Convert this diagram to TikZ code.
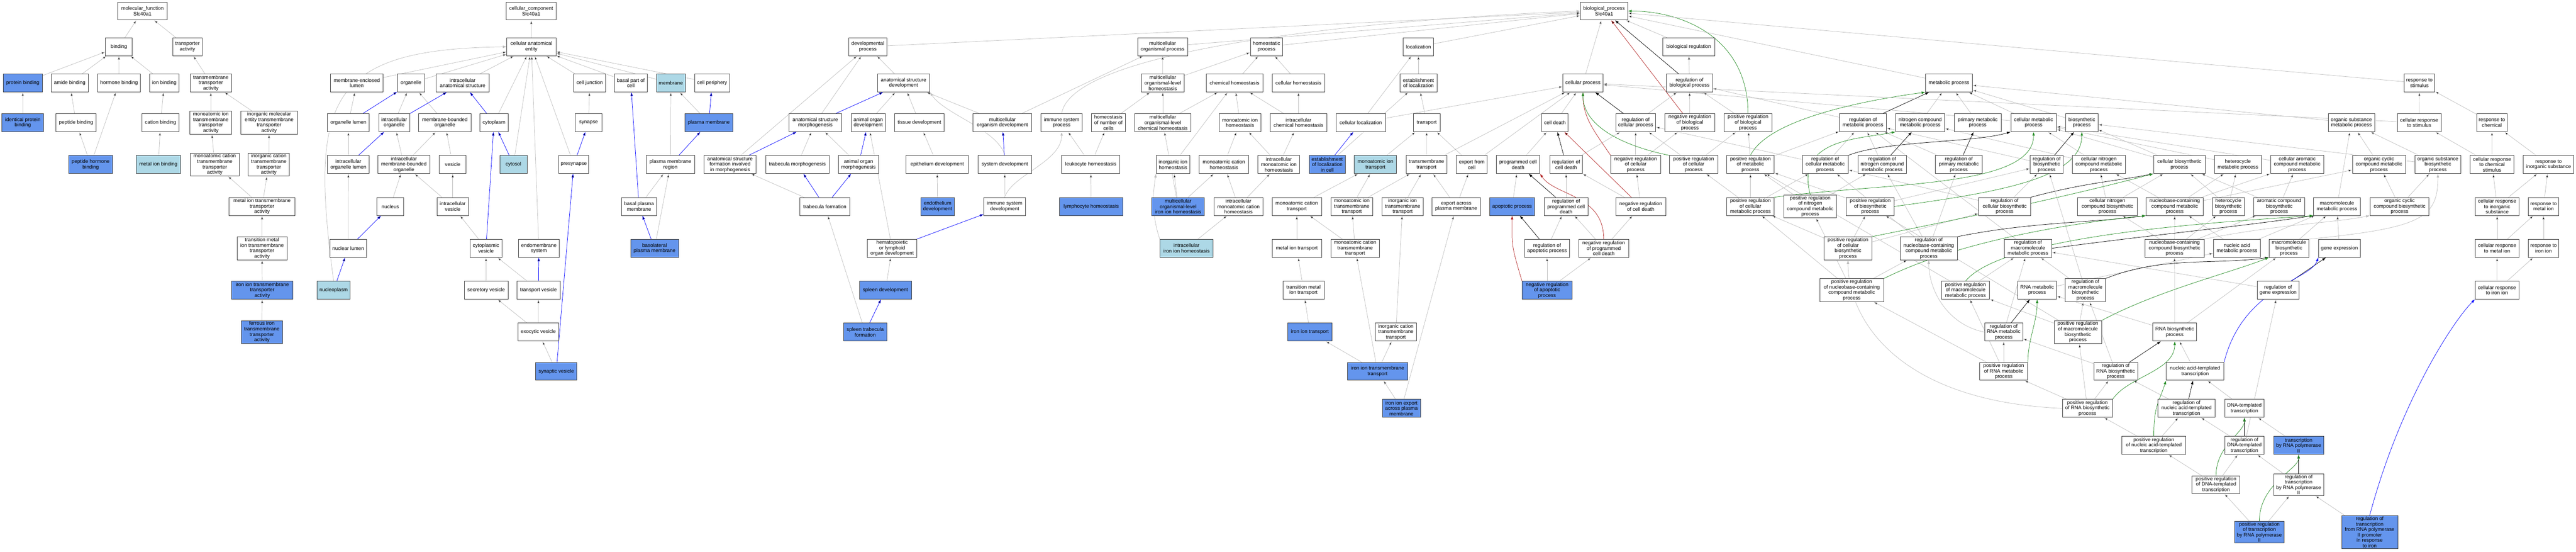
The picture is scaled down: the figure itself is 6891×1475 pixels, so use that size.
\documentclass[tikz,border=0pt]{standalone}
\usepackage{fontspec}
\setmainfont{Liberation Sans}
\usepackage{tikz}
\usetikzlibrary{arrows.meta,backgrounds}
\definecolor{hitblue}{RGB}{100,149,237}
\definecolor{litblue}{RGB}{173,216,230}
\definecolor{edgegray}{RGB}{190,190,190}
\definecolor{negred}{RGB}{178,34,34}
\definecolor{posgreen}{RGB}{34,139,34}
\newcommand{\gofont}{\fontsize{13.5}{14.6}\selectfont}
\tikzset{
    %Define standard arrow tip
    >={Latex[length=10pt,width=7pt]},
    % Define edge styles
    isa/.style={->, draw=edgegray, line width=1pt},
    partof/.style={->, draw=blue, line width=1pt},
    regs/.style={->, draw=black, line width=1pt},
    negreg/.style={->, draw=negred, line width=1pt},
    posreg/.style={->, draw=posgreen, line width=1pt}
}
\begin{document}
\begin{tikzpicture}[x=1pt, y=-1pt]
	% styles
	\tikzstyle{term} = [rectangle, draw=black!75, line width=1.2pt, fill=white, align=center, font=\gofont, inner xsep=1.5pt, inner ysep=2.5pt, minimum height=48pt]
	\tikzstyle{hit} = [term, fill=hitblue]
	\tikzstyle{lite} = [term, fill=litblue]
	\useasboundingbox (0,0) rectangle (6891,1475);

	% molecular function
	\node[term, minimum width=132pt] (mf-root) at (381,29.5) {molecular\_function\\Slc40a1};
	\node[term, minimum width=72pt] (mf-bind) at (318,125) {binding};
	\node[term, minimum width=79pt] (mf-trans) at (501.5,125) {transporter\\activity};
	\node[hit, minimum width=104pt] (mf-prot) at (61,222) {protein binding};
	\node[term, minimum width=99pt] (mf-amide) at (186.5,222) {amide binding};
	\node[term, minimum width=115pt] (mf-horm) at (318.5,222) {hormone binding};
	\node[term, minimum width=79pt] (mf-ion) at (439.5,222) {ion binding};
	\node[term, minimum width=110pt] (mf-tmt) at (564,222) {transmembrane\\transporter\\activity};
	\node[hit, minimum width=112pt] (mf-ident) at (61,328) {identical protein\\binding};
	\node[term, minimum width=107pt] (mf-pept) at (203.5,328) {peptide binding};
	\node[term, minimum width=99pt] (mf-cat) at (429.5,328) {cation binding};
	\node[term, minimum width=112pt] (mf-moi) at (564,328) {monoatomic ion\\transmembrane\\transporter\\activity};
	\node[term, minimum width=152pt] (mf-ime) at (720,328) {inorganic molecular\\entity transmembrane\\transporter\\activity};
	\node[hit, minimum width=117pt] (mf-phorm) at (242.5,440) {peptide hormone\\binding};
	\node[lite, minimum width=119pt] (mf-metal) at (423.5,440) {metal ion binding};
	\node[term, minimum width=131pt] (mf-moc) at (574.5,440) {monoatomic cation\\transmembrane\\transporter\\activity};
	\node[term, minimum width=110pt] (mf-ic) at (719,440) {inorganic cation\\transmembrane\\transporter\\activity};
	\node[term, minimum width=176pt] (mf-mit) at (701,552) {metal ion transmembrane\\transporter\\activity};
	\node[term, minimum width=134pt] (mf-tmit) at (701,664) {transition metal\\ion transmembrane\\transporter\\activity};
	\node[hit, minimum width=163pt] (mf-iron) at (701.5,776) {iron ion transmembrane\\transporter\\activity};
	\node[hit, minimum width=111pt] (mf-ferr) at (700.5,888) {ferrous iron\\transmembrane\\transporter\\activity};

	% cellular component
	\node[term, minimum width=134pt] (cc-root) at (1421,29.5) {cellular\_component\\Slc40a1};
	\node[term, minimum width=131pt] (cc-cae) at (1421.5,125) {cellular anatomical\\entity};
	\node[term, minimum width=141pt] (cc-mel) at (954.5,222) {membrane-enclosed\\lumen};
	\node[term, minimum width=73pt] (cc-org) at (1099.5,222) {organelle};
	\node[term, minimum width=141pt] (cc-ias) at (1237.5,222) {intracellular\\anatomical structure};
	\node[term, minimum width=85pt] (cc-junc) at (1577.5,222) {cell junction};
	\node[term, minimum width=89pt] (cc-basal) at (1687.5,222) {basal part of\\cell};
	\node[lite, minimum width=77pt] (cc-memb) at (1794.5,222) {membrane};
	\node[term, minimum width=94pt] (cc-peri) at (1905,222) {cell periphery};
	\node[term, minimum width=112pt] (cc-olum) at (932,328) {organelle lumen};
	\node[term, minimum width=83pt] (cc-iorg) at (1054.5,328) {intracellular\\organelle};
	\node[term, minimum width=140pt] (cc-mbo) at (1190,328) {membrane-bounded\\organelle};
	\node[term, minimum width=75pt] (cc-cyto) at (1321.5,328) {cytoplasm};
	\node[term, minimum width=71pt] (cc-syn) at (1574.5,328) {synapse};
	\node[hit, minimum width=128pt] (cc-pm) at (1896,328) {plasma membrane};
	\node[term, minimum width=112pt] (cc-iolum) at (932,440) {intracellular\\organelle lumen};
	\node[term, minimum width=139pt] (cc-imbo) at (1080.5,440) {intracellular\\membrane-bounded\\organelle};
	\node[term, minimum width=72pt] (cc-ves) at (1211,440) {vesicle};
	\node[lite, minimum width=73pt] (cc-cytosol) at (1373.5,440) {cytosol};
	\node[term, minimum width=80pt] (cc-presyn) at (1535,440) {presynapse};
	\node[term, minimum width=129pt] (cc-pmr) at (1793.5,440) {plasma membrane\\region};
	\node[term, minimum width=72pt] (cc-nuc) at (1044,552) {nucleus};
	\node[term, minimum width=84pt] (cc-ives) at (1211,552) {intracellular\\vesicle};
	\node[term, minimum width=93pt] (cc-bpm) at (1709.5,552) {basal plasma\\membrane};
	\node[term, minimum width=99pt] (cc-nlum) at (931.5,664) {nuclear lumen};
	\node[term, minimum width=86pt] (cc-cves) at (1300,664) {cytoplasmic\\vesicle};
	\node[term, minimum width=109pt] (cc-endo) at (1441.5,664) {endomembrane\\system};
	\node[hit, minimum width=128pt] (cc-blpm) at (1751,664) {basolateral\\plasma membrane};
	\node[lite, minimum width=89pt] (cc-nplasm) at (892.5,776) {nucleoplasm};
	\node[term, minimum width=117pt] (cc-sves) at (1300.5,776) {secretory vesicle};
	\node[term, minimum width=115pt] (cc-tves) at (1440.5,776) {transport vesicle};
	\node[term, minimum width=110pt] (cc-exo) at (1440,888) {exocytic vesicle};
	\node[hit, minimum width=110pt] (cc-synves) at (1488,993) {synaptic vesicle};

	% development
	\node[term, minimum width=103pt] (bp-dev) at (2321.5,125) {developmental\\process};
	\node[term, minimum width=140pt] (bp-asd) at (2417,222) {anatomical structure\\development};
	\node[term, minimum width=140pt] (bp-asm) at (2181,328) {anatomical structure\\morphogenesis};
	\node[term, minimum width=91pt] (bp-aod) at (2322.5,328) {animal organ\\development};
	\node[term, minimum width=133pt] (bp-tissue) at (2459.5,328) {tissue development};
	\node[term, minimum width=157pt] (bp-mod) at (2681.5,328) {multicellular\\organism development};
	\node[term, minimum width=140pt] (bp-asfim) at (1953,440) {anatomical structure\\formation involved\\in morphogenesis};
	\node[term, minimum width=170pt] (bp-tmorph) at (2133,440) {trabecula morphogenesis};
	\node[term, minimum width=107pt] (bp-aom) at (2296.5,440) {animal organ\\morphogenesis};
	\node[term, minimum width=166pt] (bp-epi) at (2507,440) {epithelium development};
	\node[term, minimum width=144pt] (bp-sysdev) at (2688,440) {system development};
	\node[term, minimum width=133pt] (bp-tform) at (2206.5,552) {trabecula formation};
	\node[hit, minimum width=90pt] (bp-endo) at (2508,552) {endothelium\\development};
	\node[term, minimum width=111pt] (bp-isd) at (2687.5,552) {immune system\\development};
	\node[term, minimum width=133pt] (bp-holod) at (2386.5,664) {hematopoietic\\or lymphoid\\organ development};
	\node[hit, minimum width=139pt] (bp-spleen) at (2368.5,776) {spleen development};
	\node[hit, minimum width=115pt] (bp-stf) at (2314.5,888) {spleen trabecula\\formation};

	% homeostasis
	\node[term, minimum width=110pt] (bp-isp) at (2840,328) {immune system\\process};
	\node[term, minimum width=90pt] (bp-hnc) at (2965,328) {homeostasis\\of number of\\cells};
	\node[term, minimum width=134pt] (bp-mop) at (3110,125) {multicellular\\organismal process};
	\node[term, minimum width=115pt] (bp-molh) at (3110.5,222) {multicellular\\organismal-level\\homeostasis};
	\node[term, minimum width=151pt] (bp-mochem) at (3110.5,328) {multicellular\\organismal-level\\chemical homeostasis};
	\node[term, minimum width=86pt] (bp-homeo) at (3388,125) {homeostatic\\process};
	\node[term, minimum width=151pt] (bp-chem) at (3302.5,222) {chemical homeostasis};
	\node[term, minimum width=141pt] (bp-cellh) at (3473.5,222) {cellular homeostasis};
	\node[term, minimum width=112pt] (bp-moih) at (3317,328) {monoatomic ion\\homeostasis};
	\node[term, minimum width=151pt] (bp-ich) at (3473.5,328) {intracellular\\chemical homeostasis};
	\node[term, minimum width=156pt] (bp-leuk) at (2918,440) {leukocyte homeostasis};
	\node[term, minimum width=90pt] (bp-iih) at (3138,440) {inorganic ion\\homeostasis};
	\node[term, minimum width=132pt] (bp-moch) at (3274,440) {monoatomic cation\\homeostasis};
	\node[term, minimum width=112pt] (bp-imih) at (3421,440) {intracellular\\monoatomic ion\\homeostasis};
	\node[hit, minimum width=170pt] (bp-lymph) at (2919,552) {lymphocyte homeostasis};
	\node[hit, minimum width=141pt] (bp-moiron) at (3151.5,552) {multicellular\\organismal-level\\iron ion homeostasis};
	\node[term, minimum width=130pt] (bp-imch) at (3313,552) {intracellular\\monoatomic cation\\homeostasis};
	\node[lite, minimum width=142pt] (bp-iiih) at (3174,664) {intracellular\\iron ion homeostasis};

	% localization
	\node[term, minimum width=81pt] (bp-loc) at (3794.5,125) {localization};
	\node[term, minimum width=99pt] (bp-estl) at (3794.5,222) {establishment\\of localization};
	\node[term, minimum width=132pt] (bp-cloc) at (3640,328) {cellular localization};
	\node[term, minimum width=71pt] (bp-transp) at (3816.5,328) {transport};
	\node[hit, minimum width=97pt] (bp-elic) at (3550.5,440) {establishment\\of localization\\in cell};
	\node[lite, minimum width=113pt] (bp-mit) at (3679.5,440) {monoatomic ion\\transport};
	\node[term, minimum width=110pt] (bp-tmt) at (3816,440) {transmembrane\\transport};
	\node[term, minimum width=82pt] (bp-efc) at (3937,440) {export from\\cell};
	\node[term, minimum width=132pt] (bp-mct) at (3469,552) {monoatomic cation\\transport};
	\node[term, minimum width=112pt] (bp-moitt) at (3616,552) {monoatomic ion\\transmembrane\\transport};
	\node[term, minimum width=110pt] (bp-iitt) at (3752,552) {inorganic ion\\transmembrane\\transport};
	\node[term, minimum width=129pt] (bp-eapm) at (3895.5,552) {export across\\plasma membrane};
	\node[term, minimum width=132pt] (bp-mitr) at (3469,664) {metal ion transport};
	\node[term, minimum width=130pt] (bp-mctt) at (3625,664) {monoatomic cation\\transmembrane\\transport};
	\node[term, minimum width=110pt] (bp-tmitr) at (3487,776) {transition metal\\ion transport};
	\node[hit, minimum width=118pt] (bp-iit) at (3504,888) {iron ion transport};
	\node[term, minimum width=110pt] (bp-ictt) at (3734,888) {inorganic cation\\transmembrane\\transport};
	\node[hit, minimum width=162pt] (bp-iitm) at (3685,993) {iron ion transmembrane\\transport};
	\node[hit, minimum width=102pt] (bp-iiexp) at (3749,1092) {iron ion export\\across plasma\\membrane};

	% cell death and regulation
	\node[term, minimum width=126pt] (bp-root) at (4291,29.5) {biological\_process\\Slc40a1};
	\node[term, minimum width=107pt] (bp-cp) at (4234.5,222) {cellular process};
	\node[term, minimum width=71pt] (bp-death) at (4159.5,328) {cell death};
	\node[term, minimum width=107pt] (bp-rcp) at (4375.5,328) {regulation of\\cellular process};
	\node[term, minimum width=116pt] (bp-pcd) at (4061,440) {programmed cell\\death};
	\node[term, minimum width=87pt] (bp-rcd) at (4189.5,440) {regulation of\\cell death};
	\node[term, minimum width=133pt] (bp-nrcp) at (4375.5,440) {negative regulation\\of cellular\\process};
	\node[hit, minimum width=120pt] (bp-apo) at (4045,552) {apoptotic process};
	\node[term, minimum width=117pt] (bp-rpcd) at (4189.5,552) {regulation of\\programmed cell\\death};
	\node[term, minimum width=134pt] (bp-nrcd) at (4389,552) {negative regulation\\of cell death};
	\node[term, minimum width=121pt] (bp-rap) at (4138.5,664) {regulation of\\apoptotic process};
	\node[term, minimum width=134pt] (bp-nrpcd) at (4290,664) {negative regulation\\of programmed\\cell death};
	\node[hit, minimum width=133pt] (bp-nrap) at (4138.5,776) {negative regulation\\of apoptotic\\process};
	\node[term, minimum width=139pt] (bp-breg) at (4517.5,125) {biological regulation};
	\node[term, minimum width=123pt] (bp-rbp) at (4519.5,222) {regulation of\\biological process};
	\node[term, minimum width=133pt] (bp-nrbp) at (4520.5,328) {negative regulation\\of biological\\process};
	\node[term, minimum width=128pt] (bp-prbp) at (4676,328) {positive regulation\\of biological\\process};
	\node[term, minimum width=129pt] (bp-prcp) at (4530.5,440) {positive regulation\\of cellular\\process};

	% metabolism
	\node[term, minimum width=125pt] (bp-met) at (5213.5,222) {metabolic process};
	\node[term, minimum width=125pt] (bp-rmp) at (4983.5,328) {regulation of\\metabolic process};
	\node[term, minimum width=131pt] (bp-ncmp) at (5136.5,328) {nitrogen compound\\metabolic process};
	\node[term, minimum width=125pt] (bp-pmp) at (5290.5,328) {primary metabolic\\process};
	\node[term, minimum width=122pt] (bp-cmp) at (5440,328) {cellular metabolic\\process};
	\node[term, minimum width=86pt] (bp-bio) at (5569,328) {biosynthetic\\process};
	\node[term, minimum width=124pt] (bp-osmp) at (6290,328) {organic substance\\metabolic process};
	\node[term, minimum width=127pt] (bp-prmp) at (4682.5,440) {positive regulation\\of metabolic\\process};
	\node[term, minimum width=123pt] (bp-rcmp) at (4882.5,440) {regulation of\\cellular metabolic\\process};
	\node[term, minimum width=130pt] (bp-rncmp) at (5035,440) {regulation of\\nitrogen compound\\metabolic process};
	\node[term, minimum width=126pt] (bp-rpmp) at (5240,440) {regulation of\\primary metabolic\\process};
	\node[term, minimum width=88pt] (bp-rbio) at (5475,440) {regulation of\\biosynthetic\\process};
	\node[term, minimum width=141pt] (bp-cncmp) at (5614.5,440) {cellular nitrogen\\compound metabolic\\process};
	\node[term, minimum width=138pt] (bp-cbio) at (5830,440) {cellular biosynthetic\\process};
	\node[term, minimum width=125pt] (bp-hmp) at (5986.5,440) {heterocycle\\metabolic process};
	\node[term, minimum width=142pt] (bp-cacmp) at (6145,440) {cellular aromatic\\compound metabolic\\process};
	\node[term, minimum width=142pt] (bp-occmp) at (6364,440) {organic cyclic\\compound metabolic\\process};
	\node[term, minimum width=123pt] (bp-osbio) at (6521.5,440) {organic substance\\biosynthetic\\process};
	\node[term, minimum width=127pt] (bp-prcmp) at (4682.5,552) {positive regulation\\of cellular\\metabolic process};
	\node[term, minimum width=141pt] (bp-prncmp) at (4842.5,552) {positive regulation\\of nitrogen\\compound metabolic\\process};
	\node[term, minimum width=128pt] (bp-prbio) at (5003,552) {positive regulation\\of biosynthetic\\process};
	\node[term, minimum width=139pt] (bp-rcbio) at (5362.5,552) {regulation of\\cellular biosynthetic\\process};
	\node[term, minimum width=159pt] (bp-cncbio) at (5637.5,552) {cellular nitrogen\\compound biosynthetic\\process};
	\node[term, minimum width=153pt] (bp-nccmp) at (5817.5,552) {nucleobase-containing\\compound metabolic\\process};
	\node[term, minimum width=86pt] (bp-hbio) at (5961,552) {heterocycle\\biosynthetic\\process};
	\node[term, minimum width=136pt] (bp-acbio) at (6097,552) {aromatic compound\\biosynthetic\\process};
	\node[term, minimum width=125pt] (bp-mmp) at (6251.5,552) {macromolecule\\metabolic process};
	\node[term, minimum width=158pt] (bp-occbio) at (6419,552) {organic cyclic\\compound biosynthetic\\process};
	\node[term, minimum width=127pt] (bp-prcbio) at (4943.5,664) {positive regulation\\of cellular\\biosynthetic\\process};
	\node[term, minimum width=153pt] (bp-rnccmp) at (5159.5,664) {regulation of\\nucleobase-containing\\compound metabolic\\process};
	\node[term, minimum width=126pt] (bp-rmmp) at (5425,664) {regulation of\\macromolecule\\metabolic process};
	\node[term, minimum width=158pt] (bp-nccbio) at (5817,664) {nucleobase-containing\\compound biosynthetic\\process};
	\node[term, minimum width=126pt] (bp-namp) at (5984,664) {nucleic acid\\metabolic process};
	\node[term, minimum width=106pt] (bp-mbio) at (6123,664) {macromolecule\\biosynthetic\\process};
	\node[term, minimum width=112pt] (bp-gexp) at (6258,664) {gene expression};
	\node[term, minimum width=171pt] (bp-prnccmp) at (4953.5,776) {positive regulation\\of nucleobase-containing\\compound metabolic\\process};
	\node[term, minimum width=128pt] (bp-prmmp) at (5258,776) {positive regulation\\of macromolecule\\metabolic process};
	\node[term, minimum width=103pt] (bp-rnamp) at (5449.5,776) {RNA metabolic\\process};
	\node[term, minimum width=107pt] (bp-rmbio) at (5578.5,776) {regulation of\\macromolecule\\biosynthetic\\process};
	\node[term, minimum width=112pt] (bp-rgexp) at (6094,776) {regulation of\\gene expression};
	\node[term, minimum width=102pt] (bp-rrnamp) at (5360,888) {regulation of\\RNA metabolic\\process};
	\node[term, minimum width=127pt] (bp-prmbio) at (5558.5,888) {positive regulation\\of macromolecule\\biosynthetic\\process};
	\node[term, minimum width=117pt] (bp-rnabio) at (5817.5,888) {RNA biosynthetic\\process};
	\node[term, minimum width=128pt] (bp-prrnamp) at (5360,993) {positive regulation\\of RNA metabolic\\process};
	\node[term, minimum width=117pt] (bp-rrnabio) at (5659.5,993) {regulation of\\RNA biosynthetic\\process};
	\node[term, minimum width=154pt] (bp-natt) at (5872,993) {nucleic acid-templated\\transcription};
	\node[term, minimum width=134pt] (bp-prrnabio) at (5584,1092) {positive regulation\\of RNA biosynthetic\\process};
	\node[term, minimum width=154pt] (bp-rnatt) at (5849,1092) {regulation of\\nucleic acid-templated\\transcription};
	\node[term, minimum width=106pt] (bp-dtt) at (6004,1092) {DNA-templated\\transcription};
	\node[term, minimum width=171pt] (bp-prnatt) at (5761.5,1191) {positive regulation\\of nucleic acid-templated\\transcription};
	\node[term, minimum width=106pt] (bp-rdtt) at (6004,1191) {regulation of\\DNA-templated\\transcription};
	\node[hit, minimum width=134pt] (bp-trp2) at (6149,1191) {transcription\\by RNA polymerase\\II};
	\node[term, minimum width=128pt] (bp-prdtt) at (5928,1296) {positive regulation\\of DNA-templated\\transcription};
	\node[term, minimum width=134pt] (bp-rtrp2) at (6149,1296) {regulation of\\transcription\\by RNA polymerase\\II};
	\node[hit, minimum width=132pt] (bp-prtrp2) at (6044,1423) {positive regulation\\of transcription\\by RNA polymerase\\II};
	\node[hit, minimum width=150pt] (bp-rtiron) at (6339,1423) {regulation of\\transcription\\from RNA polymerase\\II promoter\\in response\\to iron};

	% response to stimulus
	\node[term, minimum width=82pt] (bp-rs) at (6472,222) {response to\\stimulus};
	\node[term, minimum width=117pt] (bp-crs) at (6471.5,328) {cellular response\\to stimulus};
	\node[term, minimum width=82pt] (bp-rchem) at (6666,328) {response to\\chemical};
	\node[term, minimum width=117pt] (bp-crcs) at (6666.5,440) {cellular response\\to chemical\\stimulus};
	\node[term, minimum width=135pt] (bp-ris) at (6817.5,440) {response to\\inorganic substance};
	\node[term, minimum width=118pt] (bp-cris) at (6680,552) {cellular response\\to inorganic\\substance};
	\node[term, minimum width=82pt] (bp-rmi) at (6804,552) {response to\\metal ion};
	\node[term, minimum width=118pt] (bp-crmi) at (6680,664) {cellular response\\to metal ion};
	\node[term, minimum width=82pt] (bp-rii) at (6804,664) {response to\\iron ion};
	\node[term, minimum width=117pt] (bp-crii) at (6679.5,776) {cellular response\\to iron ion};

	\begin{scope}[on background layer]
	\fill[white] (0,0) rectangle (6891,1475);

	% molecular function edges
	\path[isa] (mf-bind) edge (mf-root)
	           (mf-trans) edge (mf-root)
	           (mf-prot) edge (mf-bind)
	           (mf-amide) edge (mf-bind)
	           (mf-horm) edge (mf-bind)
	           (mf-ion) edge (mf-bind)
	           (mf-tmt) edge (mf-trans)
	           (mf-ident) edge (mf-prot)
	           (mf-pept) edge (mf-amide)
	           (mf-cat) edge (mf-ion)
	           (mf-moi) edge (mf-tmt)
	           (mf-ime) edge (mf-tmt)
	           (mf-phorm) edge (mf-pept)
	           (mf-phorm) edge (mf-horm)
	           (mf-metal) edge (mf-cat)
	           (mf-moc) edge (mf-moi)
	           (mf-ic) edge (mf-ime)
	           (mf-mit) edge (mf-moc)
	           (mf-mit) edge (mf-ic)
	           (mf-tmit) edge (mf-mit)
	           (mf-iron) edge (mf-tmit)
	           (mf-ferr) edge (mf-iron);

	% cellular component edges
	\path[isa] (cc-cae) edge (cc-root)
	           (cc-mel) edge (cc-cae)
	           (cc-org) edge (cc-cae)
	           (cc-ias) edge (cc-cae)
	           (cc-junc) edge (cc-cae)
	           (cc-basal) edge (cc-cae)
	           (cc-memb) edge (cc-cae)
	           (cc-peri) edge (cc-cae)
	           (cc-cyto) edge (cc-cae)
	           (cc-cytosol) edge (cc-cae)
	           (cc-presyn) edge (cc-cae)
	           (cc-endo) edge (cc-cae)
	           (cc-syn) edge (cc-junc)
	           (cc-pm) edge (cc-memb)
	           (cc-pmr) edge (cc-memb)
	           (cc-bpm) edge (cc-pmr)
	           (cc-blpm) edge (cc-pmr)
	           (cc-olum) edge (cc-mel)
	           (cc-iorg) edge (cc-org)
	           (cc-mbo) edge (cc-org)
	           (cc-iolum) edge (cc-olum)
	           (cc-imbo) edge (cc-iorg)
	           (cc-imbo) edge (cc-mbo)
	           (cc-nuc) edge (cc-imbo)
	           (cc-nlum) edge (cc-iolum)
	           (cc-ves) edge (cc-mbo)
	           (cc-ives) edge (cc-imbo)
	           (cc-ives) edge (cc-ves)
	           (cc-cves) edge (cc-ives)
	           (cc-sves) edge (cc-cves)
	           (cc-tves) edge (cc-cves)
	           (cc-exo) edge (cc-sves)
	           (cc-exo) edge (cc-tves)
	           (cc-synves) edge (cc-exo);
	\draw[isa] (cc-nplasm.north) .. controls (826,260) and (880,132) .. (cc-cae.west);
	\path[partof] (cc-cyto) edge (cc-ias)
	           (cc-iorg) edge (cc-ias)
	           (cc-olum) edge (cc-org)
	           (cc-iolum) edge (cc-iorg)
	           (cc-nlum) edge (cc-nuc)
	           (cc-nplasm) edge (cc-nlum)
	           (cc-cytosol) edge (cc-cyto)
	           (cc-cves) edge (cc-cyto)
	           (cc-tves) edge (cc-endo)
	           (cc-synves) edge (cc-presyn)
	           (cc-presyn) edge (cc-syn)
	           (cc-pm) edge (cc-peri)
	           (cc-pmr) edge (cc-pm)
	           (cc-bpm) edge (cc-basal)
	           (cc-blpm) edge (cc-bpm);

	% development edges
	\path[isa] (bp-dev) edge (bp-root)
	           (bp-asd) edge (bp-dev)
	           (bp-asm) edge (bp-dev)
	           (bp-asfim) edge (bp-dev)
	           (bp-aod) edge (bp-asd)
	           (bp-tissue) edge (bp-asd)
	           (bp-mod) edge (bp-asd)
	           (bp-mod) edge (bp-mop)
	           (bp-tmorph) edge (bp-asm)
	           (bp-aom) edge (bp-asm)
	           (bp-epi) edge (bp-tissue)
	           (bp-endo) edge (bp-epi)
	           (bp-isd) edge (bp-sysdev)
	           (bp-holod) edge (bp-aod)
	           (bp-spleen) edge (bp-holod)
	           (bp-tform) edge (bp-asfim)
	           (bp-stf) edge (bp-tform);
	\draw[isa] (bp-sysdev.north) .. controls +(-20,-70) and +(40,60) .. (bp-asd.south east);
	\draw[isa] (bp-isd.north) .. controls +(20,-60) and +(0,80) .. (bp-isp.south);
	\path[partof] (bp-asm) edge (bp-asd)
	           (bp-asfim) edge (bp-asm)
	           (bp-aom) edge (bp-aod)
	           (bp-tform) edge (bp-tmorph)
	           (bp-tform) edge (bp-aom)
	           (bp-sysdev) edge (bp-mod)
	           (bp-holod) edge (bp-isd)
	           (bp-stf) edge (bp-spleen);

	% homeostasis edges
	\path[isa] (bp-mop) edge (bp-root)
	           (bp-homeo) edge (bp-root)
	           (bp-leuk) edge (bp-isp)
	           (bp-leuk) edge (bp-hnc)
	           (bp-lymph) edge (bp-leuk)
	           (bp-hnc) edge (bp-molh)
	           (bp-molh) edge (bp-mop)
	           (bp-molh) edge (bp-homeo)
	           (bp-mochem) edge (bp-molh)
	           (bp-mochem) edge (bp-chem)
	           (bp-chem) edge (bp-homeo)
	           (bp-cellh) edge (bp-homeo)
	           (bp-moih) edge (bp-chem)
	           (bp-iih) edge (bp-chem)
	           (bp-ich) edge (bp-chem)
	           (bp-ich) edge (bp-cellh)
	           (bp-moch) edge (bp-moih)
	           (bp-imih) edge (bp-moih)
	           (bp-imih) edge (bp-ich)
	           (bp-moiron) edge (bp-mochem)
	           (bp-moiron) edge (bp-iih)
	           (bp-moiron) edge (bp-moch)
	           (bp-imch) edge (bp-moch)
	           (bp-imch) edge (bp-imih)
	           (bp-iiih) edge (bp-imch);
	\draw[isa] (bp-isp.north) .. controls +(30,-180) and +(-500,20) .. (bp-root.west);
	\draw[isa] (bp-iiih.north west) .. controls +(-20,-60) and +(-10,60) .. (bp-iih.south west);

	% localization edges
	\path[isa] (bp-loc) edge (bp-root)
	           (bp-estl) edge (bp-loc)
	           (bp-cloc) edge (bp-loc)
	           (bp-cloc) edge (bp-cp)
	           (bp-transp) edge (bp-estl)
	           (bp-elic) edge (bp-estl)
	           (bp-mit) edge (bp-transp)
	           (bp-tmt) edge (bp-transp)
	           (bp-tmt) edge (bp-cp)
	           (bp-efc) edge (bp-transp)
	           (bp-efc) edge (bp-cp)
	           (bp-mct) edge (bp-mit)
	           (bp-moitt) edge (bp-mit)
	           (bp-moitt) edge (bp-tmt)
	           (bp-iitt) edge (bp-tmt)
	           (bp-eapm) edge (bp-tmt)
	           (bp-eapm) edge (bp-efc)
	           (bp-mitr) edge (bp-mct)
	           (bp-mctt) edge (bp-mct)
	           (bp-mctt) edge (bp-moitt)
	           (bp-tmitr) edge (bp-mitr)
	           (bp-iit) edge (bp-tmitr)
	           (bp-ictt) edge (bp-iitt)
	           (bp-iitm) edge (bp-iit)
	           (bp-iitm) edge (bp-ictt)
	           (bp-iitm) edge (bp-mctt)
	           (bp-iiexp) edge (bp-iitm)
	           (bp-iiexp) edge (bp-eapm);
	\path[partof] (bp-elic) edge (bp-cloc);

	% cell death edges
	\path[isa] (bp-cp) edge (bp-root)
	           (bp-death) edge (bp-cp)
	           (bp-pcd) edge (bp-death)
	           (bp-apo) edge (bp-pcd)
	           (bp-rcd) edge (bp-rcp)
	           (bp-nrcp) edge (bp-rcp)
	           (bp-nrcp) edge (bp-nrbp)
	           (bp-rpcd) edge (bp-rcd)
	           (bp-nrcd) edge (bp-rcd)
	           (bp-nrcd) edge (bp-nrcp)
	           (bp-rap) edge (bp-rpcd)
	           (bp-nrpcd) edge (bp-rpcd)
	           (bp-nrpcd) edge (bp-nrcd)
	           (bp-nrap) edge (bp-rap)
	           (bp-nrap) edge (bp-nrpcd);
	\path[regs] (bp-rcp) edge (bp-cp)
	           (bp-rcd) edge (bp-death)
	           (bp-rpcd) edge (bp-pcd)
	           (bp-rap) edge (bp-apo)
	           (bp-rbp) edge (bp-root);
	\path[negreg] (bp-nrcd) edge (bp-death)
	           (bp-nrbp) edge (bp-root);
	\draw[negreg] (bp-nrcp.north west) .. controls +(-40,-60) and +(0,70) .. (bp-cp.south);
	\draw[negreg] (bp-nrpcd.north) .. controls +(0,-120) and +(40,60) .. (bp-pcd.south east);
	\draw[negreg] (bp-nrap.north west) .. controls +(-30,-100) and +(0,80) .. (bp-apo.south);
	\draw[posreg] (bp-prcp.north west) .. controls +(-100,-20) and +(0,100) .. (bp-cp.south);
	\draw[posreg] (bp-prbp.north) .. controls +(0,-200) and +(150,0) .. (bp-root.east);

	% regulation edges
	\path[isa] (bp-breg) edge (bp-root)
	           (bp-rbp) edge (bp-breg)
	           (bp-rcp) edge (bp-rbp)
	           (bp-nrbp) edge (bp-rbp)
	           (bp-prbp) edge (bp-rbp)
	           (bp-prcp) edge (bp-rcp)
	           (bp-prcp) edge (bp-prbp)
	           (bp-rmp) edge (bp-rbp)
	           (bp-prmp) edge (bp-prbp)
	           (bp-prmp) edge (bp-rmp)
	           (bp-met) edge (bp-root)
	           (bp-ncmp) edge (bp-met)
	           (bp-pmp) edge (bp-met)
	           (bp-cmp) edge (bp-met)
	           (bp-cmp) edge (bp-cp)
	           (bp-bio) edge (bp-met)
	           (bp-osmp) edge (bp-met)
	           (bp-rcmp) edge (bp-rmp)
	           (bp-rcmp) edge (bp-rcp)
	           (bp-rncmp) edge (bp-rmp)
	           (bp-rpmp) edge (bp-rmp)
	           (bp-rbio) edge (bp-rmp)
	           (bp-cncmp) edge (bp-ncmp)
	           (bp-cncmp) edge (bp-cmp)
	           (bp-cbio) edge (bp-cmp)
	           (bp-cbio) edge (bp-bio)
	           (bp-hmp) edge (bp-cmp)
	           (bp-cacmp) edge (bp-cmp)
	           (bp-occmp) edge (bp-osmp)
	           (bp-osbio) edge (bp-osmp)
	           (bp-osbio) edge (bp-bio)
	           (bp-prcmp) edge (bp-prcp)
	           (bp-prcmp) edge (bp-prmp)
	           (bp-prcmp) edge (bp-rcmp)
	           (bp-prncmp) edge (bp-prmp)
	           (bp-prncmp) edge (bp-rncmp)
	           (bp-prbio) edge (bp-prmp)
	           (bp-prbio) edge (bp-rbio)
	           (bp-rcbio) edge (bp-rcmp)
	           (bp-rcbio) edge (bp-rbio)
	           (bp-cncbio) edge (bp-cncmp)
	           (bp-cncbio) edge (bp-cbio)
	           (bp-nccmp) edge (bp-cncmp)
	           (bp-nccmp) edge (bp-hmp)
	           (bp-nccmp) edge (bp-cacmp)
	           (bp-nccmp) edge (bp-occmp)
	           (bp-hbio) edge (bp-hmp)
	           (bp-hbio) edge (bp-cbio)
	           (bp-acbio) edge (bp-cacmp)
	           (bp-acbio) edge (bp-cbio)
	           (bp-mmp) edge (bp-osmp)
	           (bp-occbio) edge (bp-occmp)
	           (bp-occbio) edge (bp-osbio)
	           (bp-prcbio) edge (bp-prcmp)
	           (bp-prcbio) edge (bp-prbio)
	           (bp-prcbio) edge (bp-rcbio)
	           (bp-rnccmp) edge (bp-rcmp)
	           (bp-rnccmp) edge (bp-rncmp)
	           (bp-rnccmp) edge (bp-rpmp)
	           (bp-rmmp) edge (bp-rmp)
	           (bp-nccbio) edge (bp-nccmp)
	           (bp-nccbio) edge (bp-hbio)
	           (bp-nccbio) edge (bp-acbio)
	           (bp-nccbio) edge (bp-cncbio)
	           (bp-namp) edge (bp-nccmp)
	           (bp-namp) edge (bp-mmp)
	           (bp-mbio) edge (bp-mmp)
	           (bp-gexp) edge (bp-mmp)
	           (bp-prnccmp) edge (bp-prcmp)
	           (bp-prnccmp) edge (bp-prncmp)
	           (bp-prnccmp) edge (bp-rnccmp)
	           (bp-prmmp) edge (bp-prmp)
	           (bp-prmmp) edge (bp-rmmp)
	           (bp-rnamp) edge (bp-namp)
	           (bp-rmbio) edge (bp-rbio)
	           (bp-rmbio) edge (bp-rmmp)
	           (bp-rgexp) edge (bp-rmmp)
	           (bp-rrnamp) edge (bp-rmmp)
	           (bp-prmbio) edge (bp-prbio)
	           (bp-prmbio) edge (bp-prmmp)
	           (bp-prmbio) edge (bp-rmbio)
	           (bp-rnabio) edge (bp-rnamp)
	           (bp-rnabio) edge (bp-nccbio)
	           (bp-rnabio) edge (bp-mbio)
	           (bp-prrnamp) edge (bp-rrnamp)
	           (bp-prrnamp) edge (bp-prmmp)
	           (bp-prrnamp) edge (bp-prnccmp)
	           (bp-rrnabio) edge (bp-rrnamp)
	           (bp-rrnabio) edge (bp-rmbio)
	           (bp-natt) edge (bp-rnabio)
	           (bp-prrnabio) edge (bp-prrnamp)
	           (bp-prrnabio) edge (bp-rrnabio)
	           (bp-prrnabio) edge (bp-prmbio)
	           (bp-rnatt) edge (bp-rrnabio)
	           (bp-dtt) edge (bp-natt)
	           (bp-prnatt) edge (bp-prrnabio)
	           (bp-prnatt) edge (bp-rnatt)
	           (bp-rdtt) edge (bp-rnatt)
	           (bp-rdtt) edge (bp-rgexp)
	           (bp-trp2) edge (bp-dtt)
	           (bp-prdtt) edge (bp-prnatt)
	           (bp-prdtt) edge (bp-rdtt)
	           (bp-rtrp2) edge (bp-rdtt)
	           (bp-prtrp2) edge (bp-prdtt)
	           (bp-prtrp2) edge (bp-rtrp2)
	           (bp-rtiron) edge (bp-rtrp2);
	\draw[isa] (bp-nccbio.north east) .. controls +(200,-40) and +(-100,20) .. (bp-occbio.south west);
	\draw[isa] (bp-mbio.north east) .. controls +(300,-30) and +(0,120) .. (bp-osbio.south);
	\draw[isa] (bp-rrnamp.west) .. controls +(-100,-20) and +(0,80) .. (bp-rnccmp.south);
	\draw[isa] (bp-prrnabio.west) .. controls +(-450,-20) and +(0,150) .. (bp-prcbio.south);
	\path[regs] (bp-rmp) edge (bp-met)
	           (bp-rncmp) edge (bp-ncmp)
	           (bp-rpmp) edge (bp-pmp)
	           (bp-rbio) edge (bp-bio)
	           (bp-rgexp) edge (bp-gexp)
	           (bp-rrnamp) edge (bp-rnamp)
	           (bp-rrnabio) edge (bp-rnabio)
	           (bp-rnatt) edge (bp-natt)
	           (bp-rdtt) edge (bp-dtt)
	           (bp-rtrp2) edge (bp-trp2);
	\draw[regs] (bp-rcmp.north east) .. controls +(100,-40) and +(-100,30) .. (bp-cmp.south west);
	\draw[regs] (bp-rcbio.north east) .. controls +(150,-40) and +(-100,20) .. (bp-cbio.south west);
	\draw[regs] (bp-rnccmp.north east) .. controls +(200,-40) and +(-150,20) .. (bp-nccmp.south west);
	\draw[regs] (bp-rmmp.east) .. controls +(300,-40) and +(-200,30) .. (bp-mmp.south west);
	\draw[regs] (bp-rmbio.north east) .. controls +(150,-60) and +(-150,20) .. (bp-mbio.south west);
	\draw[posreg] (bp-prmp.north) .. controls +(50,-100) and +(-150,20) .. (bp-met.south west);
	\draw[posreg] (bp-prcmp.north east) .. controls +(300,-40) and +(0,150) .. (bp-cmp.south);
	\draw[posreg] (bp-prncmp.north) .. controls +(-40,-150) and +(-100,20) .. (bp-ncmp.south west);
	\draw[posreg] (bp-prbio.east) .. controls +(300,-40) and +(0,120) .. (bp-bio.south);
	\draw[posreg] (bp-prcbio.north east) .. controls +(400,-80) and +(-150,40) .. (bp-cbio.south west);
	\draw[posreg] (bp-prnccmp.north east) .. controls +(200,-100) and +(-200,20) .. (bp-nccmp.south west);
	\draw[posreg] (bp-prmmp.north) .. controls +(100,-120) and +(-300,20) .. (bp-mmp.south west);
	\draw[posreg] (bp-prmbio.north east) .. controls +(150,-80) and +(-100,40) .. (bp-mbio.south west);
	\draw[posreg] (bp-prrnamp.north east) .. controls +(0,-60) and +(0,60) .. (bp-rnamp.south);
	\draw[posreg] (bp-prrnabio.north east) .. controls +(40,-60) and +(0,80) .. (bp-rnabio.south);
	\draw[posreg] (bp-prnatt.north) .. controls +(0,-80) and +(-20,60) .. (bp-natt.south west);
	\draw[posreg] (bp-prdtt.north) .. controls +(0,-80) and +(0,40) .. (bp-dtt.south);
	\draw[posreg] (bp-prtrp2.north) .. controls +(0,-100) and +(0,40) .. (bp-trp2.south);
	\draw[partof] (bp-natt.north east) .. controls +(50,-200) and +(-20,60) .. (bp-gexp.south west);
	\draw[partof] (bp-rtiron.north) .. controls +(80,-300) and +(-60,60) .. (bp-crii.south west);

	% response edges
	\path[isa] (bp-rs) edge (bp-root)
	           (bp-crs) edge (bp-rs)
	           (bp-crs) edge (bp-cp)
	           (bp-rchem) edge (bp-rs)
	           (bp-crcs) edge (bp-crs)
	           (bp-crcs) edge (bp-rchem)
	           (bp-ris) edge (bp-rchem)
	           (bp-cris) edge (bp-crcs)
	           (bp-cris) edge (bp-ris)
	           (bp-rmi) edge (bp-ris)
	           (bp-crmi) edge (bp-cris)
	           (bp-crmi) edge (bp-rmi)
	           (bp-rii) edge (bp-rmi)
	           (bp-crii) edge (bp-crmi)
	           (bp-crii) edge (bp-rii);
	\end{scope}
\end{tikzpicture}
\end{document}
